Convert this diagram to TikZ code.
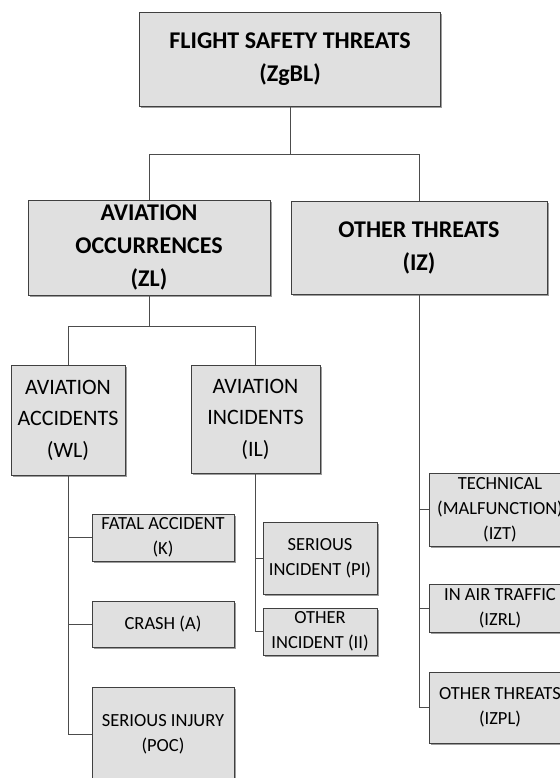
\documentclass[tikz,border=0pt]{standalone}
\usepackage{fontspec}
\setmainfont{Carlito}
\usetikzlibrary{shadows}

\begin{document}
\begin{tikzpicture}[x=1pt,y=1pt,
   every node/.style={draw=black!75,fill=black!12,line width=.8pt,
      align=center,inner sep=0pt,
      drop shadow={shadow xshift=1.6pt,shadow yshift=-1.6pt,fill=black!55,opacity=.7}},
   head/.style={font=\fontsize{24}{33}\selectfont\bfseries},
   mid/.style={font=\fontsize{22}{31.5}\selectfont},
   leaf/.style={font=\fontsize{18.5}{25}\selectfont},
   link/.style={draw=black!70,line width=.8pt}]

\useasboundingbox (0,0) rectangle (559,778);

% top level
\node[head,minimum width=301,minimum height=94] (zgbl) at (290,719)
   {FLIGHT SAFETY THREATS\\(ZgBL)};

% second level
\node[head,minimum width=242,minimum height=95] (zl) at (149,530.5)
   {AVIATION\\OCCURRENCES\\(ZL)};
\node[head,minimum width=256,minimum height=93] (iz) at (419,530.5)
   {OTHER THREATS\\(IZ)};

% third level
\node[mid,minimum width=114,minimum height=110] (wl) at (68,358)
   {AVIATION\\ACCIDENTS\\(WL)};
\node[mid,minimum width=129,minimum height=108] (il) at (255.5,359)
   {AVIATION\\INCIDENTS\\(IL)};

% leaves
\node[leaf,minimum width=142,minimum height=47] (k) at (163,240.5)
   {FATAL ACCIDENT\\(K)};
\node[leaf,minimum width=142,minimum height=46] (a) at (163,154)
   {CRASH (A)};
\node[leaf,minimum width=142,minimum height=95] (poc) at (163,43.5)
   {SERIOUS INJURY\\(POC)};
\node[leaf,minimum width=114,minimum height=72] (pi) at (320,220)
   {SERIOUS\\INCIDENT (PI)};
\node[leaf,minimum width=114,minimum height=47] (ii) at (320,146.5)
   {OTHER\\INCIDENT (II)};
\node[leaf,minimum width=142,minimum height=73] (izt) at (500,268.5)
   {TECHNICAL\\(MALFUNCTION)\\(IZT)};
\node[leaf,minimum width=142,minimum height=48] (izrl) at (500,170)
   {IN AIR TRAFFIC\\(IZRL)};
\node[leaf,minimum width=142,minimum height=71] (izpl) at (500,70.5)
   {OTHER THREATS\\(IZPL)};

% connectors
\draw[link] (zgbl.south) -- ++(0,-48) -| (zl.north);
\draw[link] (zgbl.south) -- ++(0,-48) -| (iz.north);
\draw[link] (zl.south) -- ++(0,-31) -| (wl.north);
\draw[link] (zl.south) -- ++(0,-31) -| (il.north);
\foreach \leaf in {k,a,poc}
   \draw[link] (wl.south) |- (\leaf.west);
\foreach \leaf in {pi,ii}
   \draw[link] (il.south) |- (\leaf.west);
\foreach \leaf in {izt,izrl,izpl}
   \draw[link] (iz.south) |- (\leaf.west);

\end{tikzpicture}
\end{document}
